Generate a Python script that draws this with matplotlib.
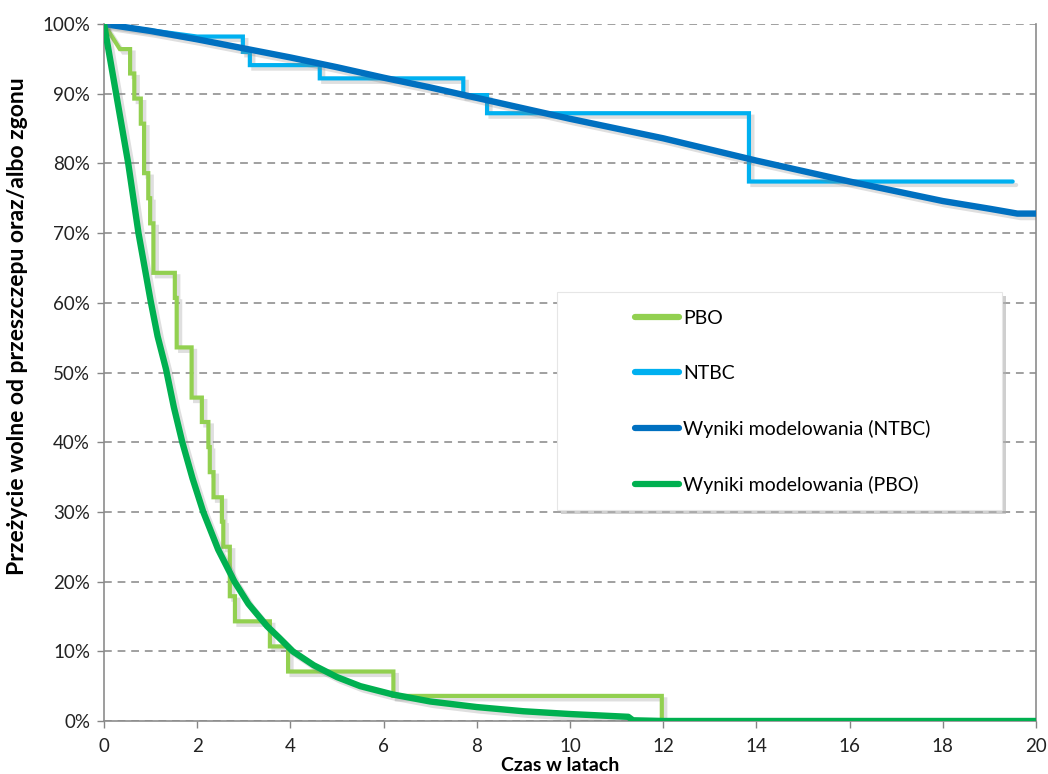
import matplotlib
matplotlib.use("Agg")
import matplotlib.pyplot as plt
from matplotlib import patheffects as pe
from matplotlib.patches import Rectangle

# ---------------- data ----------------
# Kaplan-Meier (observed) PBO: event times (years) and survival after the event (%)
pbo_km_time = [0.34, 0.56, 0.65, 0.79, 0.86, 0.95, 0.99, 1.06, 1.52, 1.56, 1.88,
               2.10, 2.24, 2.27, 2.35, 2.53, 2.56, 2.70, 2.81, 3.56, 3.95, 6.21, 11.97]
pbo_km_surv = [96.4, 92.9, 89.3, 85.7, 78.6, 75.0, 71.4, 64.3, 60.7, 53.6, 46.4,
               42.9, 39.3, 35.7, 32.1, 28.6, 25.0, 17.9, 14.3, 10.7, 7.1, 3.6, 0.0]

# Kaplan-Meier (observed) NTBC
ntbc_km_time = [2.00, 2.98, 3.13, 4.63, 7.71, 8.22, 13.84]
ntbc_km_surv = [98.2, 96.0, 94.1, 92.2, 89.8, 87.2, 77.4]
ntbc_km_end = 19.5

# Modelled survival NTBC
ntbc_model_time = [0, 1, 2, 3, 4, 5, 6, 7, 8, 9, 10, 11, 12, 13, 14, 15, 16, 17, 18, 19, 19.6, 20]
ntbc_model_surv = [100, 99.0, 97.8, 96.5, 95.2, 93.8, 92.3, 90.9, 89.4, 87.9, 86.4,
                   85.0, 83.6, 82.0, 80.4, 78.9, 77.4, 76.0, 74.6, 73.5, 72.8, 72.8]

# Modelled survival PBO
pbo_model_time = [0, 0.26, 0.52, 0.74, 1.0, 1.15, 1.33, 1.5, 1.68, 1.9, 2.13, 2.45, 2.8,
                  3.1, 3.5, 3.75, 4.05, 4.5, 5.0, 5.5, 6.2, 7.0, 8.0, 9.0, 10.0,
                  11.25, 11.35, 12, 14, 16, 18, 20]
pbo_model_surv = [100, 90, 80, 70, 60.3, 55.2, 50.5, 45.0, 40.0, 34.8, 30.0, 24.6, 20.0,
                  16.8, 13.6, 12.0, 10.0, 8.0, 6.3, 5.0, 3.8, 2.8, 2.0, 1.4, 1.0,
                  0.6, 0.1, 0, 0, 0, 0, 0]

labels = ["PBO", "NTBC", "Wyniki modelowania (NTBC)", "Wyniki modelowania (PBO)"]
colors = ["#92D050", "#00B0F0", "#0070C0", "#00B050"]

x_ticks = list(range(0, 21, 2))
y_ticks = list(range(0, 101, 10))
y_ticklabels = [f"{v}%" for v in y_ticks]


def km_path(times, surv, end=None):
    xs, ys = [0, times[0]], [100, surv[0]]
    for t, sp, s in zip(times[1:], surv[:-1], surv[1:]):
        xs += [t, t]
        ys += [sp, s]
    if end is not None:
        xs.append(end)
        ys.append(surv[-1])
    return xs, ys


plt.rcParams["font.family"] = ["Lato", "DejaVu Sans"]

W, H = 1048, 774
fig = plt.figure(figsize=(W / 100, H / 100), dpi=100)
ax = fig.add_axes([104 / W, 1 - 721 / H, (1036 - 104) / W, (721 - 24) / H])

shadow = [pe.SimpleLineShadow(offset=(2.5, -2.5), shadow_color="#808080", alpha=0.25),
          pe.Normal()]

px, py = km_path(pbo_km_time, pbo_km_surv)
ax.plot(px, py, color=colors[0], lw=3.0, label=labels[0], path_effects=shadow,
        solid_joinstyle="miter", zorder=3)
nx, ny = km_path(ntbc_km_time, ntbc_km_surv, ntbc_km_end)
ax.plot(nx, ny, color=colors[1], lw=3.0, label=labels[1], path_effects=shadow,
        solid_joinstyle="miter", solid_capstyle="round", zorder=4)
ax.plot(ntbc_model_time, ntbc_model_surv, color=colors[2], lw=4.6, label=labels[2],
        path_effects=shadow, zorder=5)
ax.plot(pbo_model_time, pbo_model_surv, color=colors[3], lw=4.6, label=labels[3],
        path_effects=shadow, zorder=6)

ax.set_xlim(0, 20)
ax.set_ylim(0, 100)
ax.set_xticks(x_ticks)
ax.set_yticks(y_ticks)
ax.set_yticklabels(y_ticklabels)
ax.tick_params(axis="both", colors="#868686", labelcolor="#222222", labelsize=13.5,
               length=5, width=1)
ax.tick_params(axis="y", pad=5)
ax.tick_params(axis="x", pad=7)
ax.yaxis.grid(True, color="#A0A0A0", linestyle=(0, (4, 3)), linewidth=1.4)
ax.set_axisbelow(True)
ax.spines["top"].set_visible(False)
for s in ["left", "bottom", "right"]:
    ax.spines[s].set_color("#8C8C8C")
    ax.spines[s].set_linewidth(1.2)

ax.set_xlabel("Czas w latach", fontsize=14, fontweight="bold", labelpad=0)
ax.xaxis.set_label_coords(0.49, -0.052)
ax.set_ylabel("Przeżycie wolne od przeszczepu oraz/albo zgonu", fontsize=16.5,
              fontweight="bold")
ax.yaxis.set_label_coords(-0.0815, 0.567)

# legend box with shadow
lx0, ly0, lx1, ly1 = 557, 292, 1002, 510
fig.patches.append(Rectangle((lx0 / W + 4 / W, 1 - ly1 / H - 4 / H),
                             (lx1 - lx0) / W, (ly1 - ly0) / H,
                             transform=fig.transFigure, facecolor="#B0B0B0",
                             edgecolor="none", alpha=0.6, zorder=8))
fig.patches.append(Rectangle((lx0 / W, 1 - ly1 / H), (lx1 - lx0) / W, (ly1 - ly0) / H,
                             transform=fig.transFigure, facecolor="white",
                             edgecolor="#E6E6E6", lw=0.8, zorder=9))
leg = fig.legend(loc="upper left", bbox_to_anchor=(625 / W, 1 - 300 / H),
                 frameon=False, fontsize=14, handlelength=2.3, handletextpad=0.2,
                 labelspacing=1.96, borderpad=0)
leg.set_zorder(10)
for h in leg.get_lines():
    h.set_path_effects([])
    h.set_solid_capstyle("round")
    h.set_linewidth(4.5)

fig.savefig("out.png", dpi=100)
